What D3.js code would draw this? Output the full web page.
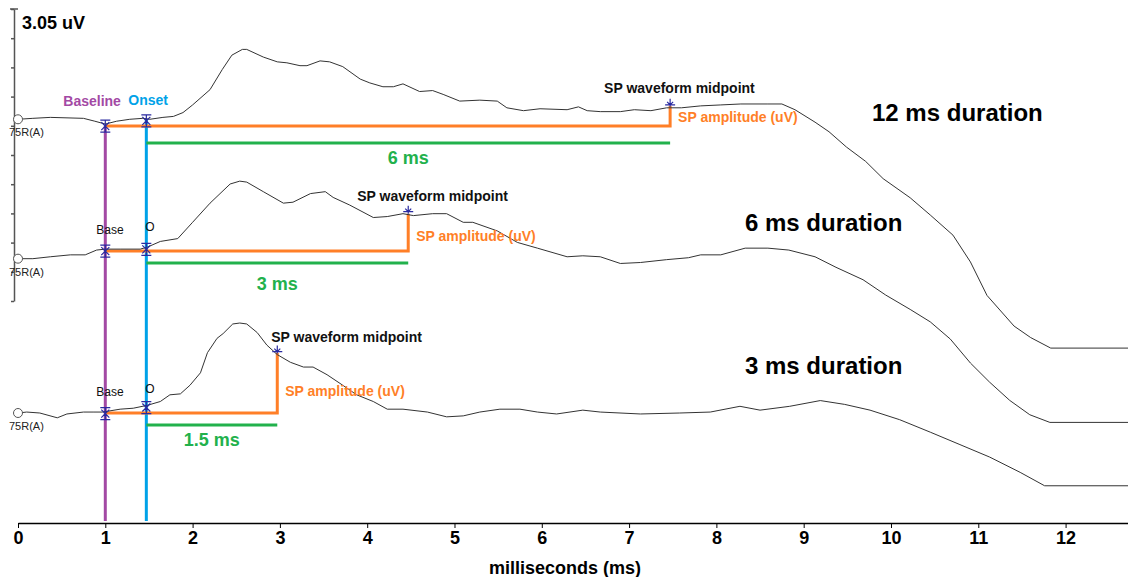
<!DOCTYPE html>
<html><head><meta charset="utf-8">
<script src="https://cdn.jsdelivr.net/npm/d3@7"></script>
<style>
body{margin:0;background:#fff;}
svg{display:block;font-family:Arial,"Liberation Sans",sans-serif;}
</style></head>
<body><svg id="c" width="1128" height="577"></svg>
<script>
// ---- data ----
const xTicks = [0,1,2,3,4,5,6,7,8,9,10,11,12];
const scaleBarLabel = "3.05 uV";
const durations = [12, 6, 3];           // ms
const durationLabels = ["12 ms duration", "6 ms duration", "3 ms duration"];
const halfLabels = ["6 ms", "3 ms", "1.5 ms"];
const baselineMs = 1.0;
const onsetMs = 1.47;
const traceOffsets = [1.828, 0.522, -1.170];   // uV level of each trace baseline
const midAmp = [0.21, 0.39, 0.63];             // SP amplitude (uV)

// [ms, uV relative to trace baseline]
const trace12 = [[0,0.07],[0.17,0.08],[0.37,0.09],[0.75,0.08],[0.88,0.05],[1.0,0.02],[1.13,0.05],[1.28,0.07],[1.43,0.08],[1.51,0.07],[1.66,0.09],[1.78,0.10],[1.89,0.14],[2.0,0.22],[2.2,0.38],[2.34,0.59],[2.45,0.74],[2.57,0.80],[2.62,0.80],[2.81,0.72],[2.97,0.67],[3.08,0.66],[3.23,0.63],[3.31,0.63],[3.46,0.68],[3.57,0.67],[3.72,0.62],[3.92,0.49],[4.03,0.45],[4.18,0.41],[4.3,0.41],[4.41,0.44],[4.6,0.36],[4.75,0.37],[4.87,0.33],[5.06,0.26],[5.29,0.27],[5.49,0.26],[5.6,0.19],[5.79,0.16],[5.98,0.18],[6.29,0.17],[6.42,0.20],[6.52,0.16],[6.67,0.15],[6.9,0.15],[7.06,0.17],[7.25,0.16],[7.43,0.19],[7.6,0.19],[7.82,0.21],[8.05,0.22],[8.28,0.23],[8.59,0.23],[8.75,0.23],[8.9,0.17],[9.13,0.04],[9.29,-0.06],[9.49,-0.22],[9.71,-0.37],[9.91,-0.55],[10.22,-0.75],[10.45,-0.93],[10.71,-1.14],[10.91,-1.42],[11.1,-1.77],[11.41,-2.09],[11.6,-2.21],[11.83,-2.32],[12.715,-2.32]];
const trace6 = [[0,-0.08],[0.17,-0.08],[0.37,-0.06],[0.6,-0.04],[0.77,-0.04],[0.9,0.01],[1.0,0.02],[1.17,0.02],[1.4,0.02],[1.48,0.04],[1.63,0.10],[1.83,0.13],[2.0,0.30],[2.2,0.50],[2.43,0.70],[2.54,0.73],[2.62,0.72],[2.81,0.62],[3.04,0.50],[3.15,0.51],[3.35,0.60],[3.52,0.62],[3.61,0.56],[3.8,0.48],[4.07,0.35],[4.23,0.36],[4.41,0.39],[4.53,0.37],[4.75,0.39],[4.91,0.39],[5.1,0.30],[5.21,0.30],[5.49,0.21],[5.72,0.09],[5.95,0.03],[6.29,-0.06],[6.47,-0.05],[6.67,-0.06],[6.9,-0.13],[7.13,-0.12],[7.43,-0.09],[7.68,-0.07],[7.82,-0.04],[8.05,-0.04],[8.33,0.03],[8.59,0.03],[8.83,0.01],[9.13,-0.06],[9.37,-0.17],[9.68,-0.30],[9.94,-0.46],[10.22,-0.61],[10.45,-0.74],[10.68,-0.92],[10.91,-1.17],[11.13,-1.37],[11.36,-1.56],[11.59,-1.71],[11.82,-1.79],[12.715,-1.79]];
const trace3 = [[0,0],[0.1,0.01],[0.25,0],[0.45,-0.05],[0.56,-0.01],[0.75,0.01],[0.86,0.01],[0.97,0.01],[1.17,0.04],[1.32,0.05],[1.48,0.08],[1.63,0.12],[1.74,0.19],[1.86,0.20],[1.97,0.29],[2.09,0.42],[2.17,0.63],[2.28,0.78],[2.35,0.83],[2.46,0.93],[2.54,0.94],[2.62,0.93],[2.74,0.84],[2.85,0.71],[2.97,0.61],[3.12,0.53],[3.27,0.48],[3.38,0.48],[3.54,0.40],[3.72,0.29],[3.88,0.19],[4.07,0.12],[4.23,0.04],[4.41,0.04],[4.69,0.01],[4.91,-0.04],[5.1,-0.03],[5.29,0.01],[5.52,0.04],[5.75,0.04],[5.95,0.01],[6.17,-0.01],[6.47,0.03],[6.67,0.01],[7.13,-0.01],[7.58,0],[7.93,0.01],[8.27,0.07],[8.5,0.03],[8.84,0.07],[9.19,0.13],[9.47,0.09],[9.76,0.03],[10.1,-0.07],[10.45,-0.20],[10.79,-0.33],[11.13,-0.46],[11.48,-0.62],[11.76,-0.76],[12.715,-0.76]];
const traces = [trace12, trace6, trace3];
const channelLabel = "75R(A)";

// ---- chart ----
const svg = d3.select("#c");
const x = d3.scaleLinear().domain([0, 12.715]).range([18, 1128]);
const y = d3.scaleLinear().domain([0, 3.05]).range([301, 9]);
const PURPLE = "#a349a4", CYAN = "#00a2e8", ORANGE = "#ff7f27", GREEN = "#22b14c", MARK = "#2a2aa0";

function valAt(tr, ms){
  for(let i=1;i<tr.length;i++){
    if(tr[i][0]>=ms){const a=tr[i-1],b=tr[i];const t=(ms-a[0])/(b[0]-a[0]);return a[1]+t*(b[1]-a[1]);}
  }
  return tr[tr.length-1][1];
}

// scale bar (left)
const yAxis = d3.axisLeft(y).tickValues(d3.range(0,11).map(i=>i*0.305)).tickSize(3).tickSizeOuter(0).tickFormat("");
const ya = svg.append("g").attr("transform","translate(14,0)").call(yAxis);
ya.selectAll("path,line").attr("stroke","#555").attr("stroke-width",1.5);
svg.append("line").attr("x1",10).attr("x2",18).attr("y1",y(3.05)).attr("y2",y(3.05)).attr("stroke","#555").attr("stroke-width",1.5);
svg.append("text").attr("x",22).attr("y",29).attr("font-size",18).attr("font-weight","bold").text(scaleBarLabel);

// x axis
const xAxis = d3.axisBottom(x).tickValues(xTicks).tickSize(5).tickSizeOuter(0).tickFormat(d3.format("d"));
const xa = svg.append("g").attr("transform","translate(0,523)").call(xAxis);
xa.select(".domain").attr("stroke","#000").attr("stroke-width",1.5);
xa.selectAll(".tick line").attr("stroke","#000");
xa.selectAll(".tick text").attr("font-size",18).attr("font-weight","bold").attr("font-family","Arial,'Liberation Sans',sans-serif").attr("fill","#000").attr("dy","0.71em").attr("y",8);
svg.append("text").attr("x",565).attr("y",574).attr("text-anchor","middle").attr("font-size",18).attr("font-weight","bold").text("milliseconds (ms)");

// vertical baseline / onset lines
const topBase = y(traceOffsets[0]);
svg.append("line").attr("x1",x(baselineMs)).attr("x2",x(baselineMs)).attr("y1",topBase).attr("y2",521).attr("stroke",PURPLE).attr("stroke-width",3);
svg.append("line").attr("x1",x(onsetMs)).attr("x2",x(onsetMs)).attr("y1",y(traceOffsets[0]+valAt(trace12,onsetMs))).attr("y2",521).attr("stroke",CYAN).attr("stroke-width",3);
svg.append("text").attr("x",x(baselineMs)-42).attr("y",106).attr("font-size",14).attr("font-weight","bold").attr("fill",PURPLE).text("Baseline");
svg.append("text").attr("x",x(onsetMs)-18).attr("y",105).attr("font-size",14).attr("font-weight","bold").attr("fill",CYAN).text("Onset");

const line = d3.line().x(d=>x(d[0]));
const hourglass = "M-5,-6H5M0,-6V6M-5,6H5M-4,-4L0,0L4,-4M-4,4L0,0L4,4";
const midMark = "M-5,-2H5M0,-8V0M-3,-5L0,-2L3,-5";

const labelY = [[93,122,121,164],[201,241,231,290],[342,396,374,446]];
const midLabelDx = [-66,-51,-6];
const greenGap = [17,12,12];

traces.forEach((tr,i)=>{
  const off = traceOffsets[i];
  const by = y(off);
  const midMs = onsetMs + durations[i]/2;
  const midY = y(off + midAmp[i]);
  // orange amplitude bracket
  svg.append("path").attr("d",`M${x(baselineMs)},${by}H${x(midMs)}V${midY}`).attr("fill","none").attr("stroke",ORANGE).attr("stroke-width",3);
  // green half-duration line
  svg.append("line").attr("x1",x(onsetMs)).attr("x2",x(midMs)).attr("y1",by+greenGap[i]).attr("y2",by+greenGap[i]).attr("stroke",GREEN).attr("stroke-width",3);
  svg.append("text").attr("x",(x(onsetMs)+x(midMs))/2).attr("y",labelY[i][3]).attr("text-anchor","middle").attr("font-size",18).attr("font-weight","bold").attr("fill",GREEN).text(halfLabels[i]);
  // trace
  svg.append("path").datum(tr).attr("d",line.y(d=>y(off+d[1]))).attr("fill","none").attr("stroke","#333").attr("stroke-width",1);
  svg.append("circle").attr("cx",x(0)).attr("cy",y(off+tr[0][1])).attr("r",4.5).attr("fill","#fff").attr("stroke","#555").attr("stroke-width",1);
  svg.append("text").attr("x",9).attr("y",y(off+tr[0][1])+17).attr("font-size",11).attr("fill","#222").text(channelLabel);
  // markers
  [baselineMs, onsetMs].forEach(ms=>{
    svg.append("path").attr("d",hourglass).attr("transform",`translate(${x(ms)},${y(off+valAt(tr,ms))+2})`).attr("fill","none").attr("stroke",MARK).attr("stroke-width",1.2);
  });
  svg.append("path").attr("d",midMark).attr("transform",`translate(${x(midMs)},${y(off+valAt(tr,midMs))-1})`).attr("fill","none").attr("stroke",MARK).attr("stroke-width",1.2);
  if(i>0){
    svg.append("text").attr("x",x(baselineMs)-9).attr("y",by-17).attr("font-size",12).attr("fill","#111").text("Base");
    svg.append("text").attr("x",x(onsetMs)-1).attr("y",by-20).attr("font-size",12).attr("fill","#111").text("O");
  }
  svg.append("text").attr("x",x(midMs)+midLabelDx[i]).attr("y",labelY[i][0]).attr("font-size",14).attr("font-weight","bold").attr("fill","#111").text("SP waveform midpoint");
  svg.append("text").attr("x",x(midMs)+8).attr("y",labelY[i][1]).attr("font-size",14).attr("font-weight","bold").attr("fill",ORANGE).text("SP amplitude (uV)");
  svg.append("text").attr("x",i===0?872:745).attr("y",labelY[i][2]).attr("font-size",24).attr("font-weight","bold").attr("fill","#000").text(durationLabels[i]);
});
</script></body></html>
